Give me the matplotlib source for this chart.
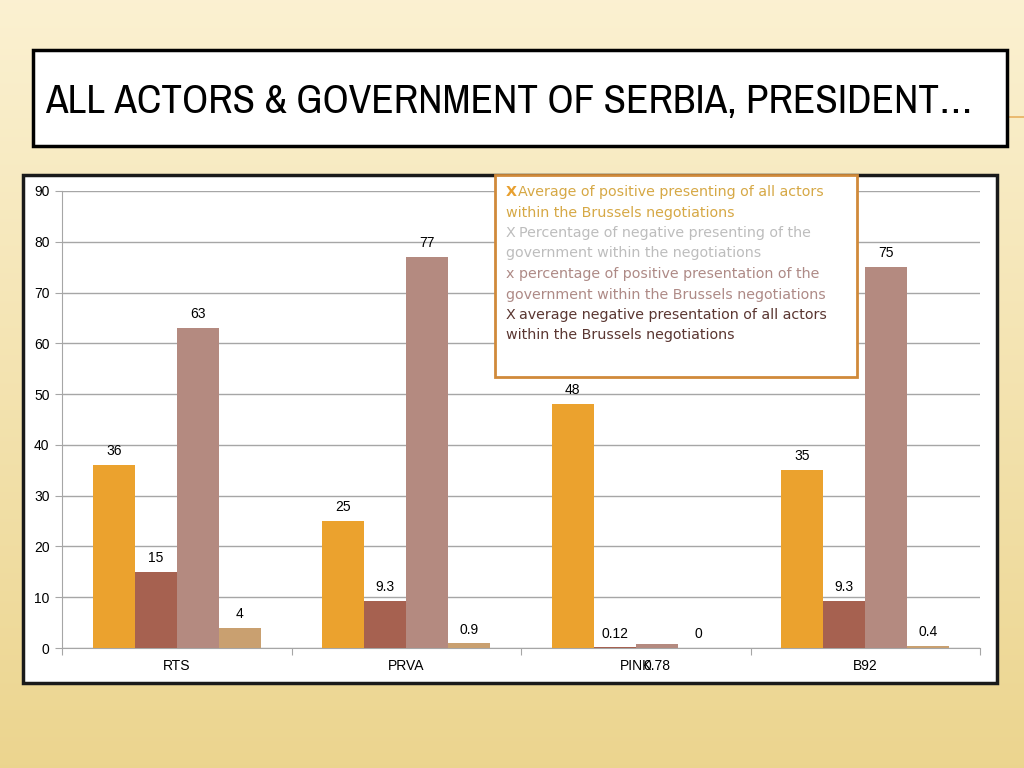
import numpy as np
import matplotlib
matplotlib.use("Agg")
import matplotlib.pyplot as plt
from matplotlib.patches import Rectangle

# data
channels = ["RTS", "PRVA", "PINK", "B92"]
avg_pos_all = [36, 25, 48, 35]
neg_gov = [15, 9.3, 0.12, 9.3]
pos_gov = [63, 77, 0.78, 75]
avg_neg_all = [4, 0.9, 0, 0.4]
value_labels = [
    ["36", "25", "48", "35"],
    ["15", "9.3", "0.12", "9.3"],
    ["63", "77", "0.78", "75"],
    ["4", "0.9", "0", "0.4"],
]
yticks = [0, 10, 20, 30, 40, 50, 60, 70, 80, 90]

title = "ALL ACTORS & GOVERNMENT OF SERBIA, PRESIDENT…"
legend_lines = [
    ("Average of positive presenting of all actors", "within the Brussels negotiations"),
    ("Percentage of negative presenting of the", "government within the negotiations"),
    ("percentage of positive presentation of the", "government within the Brussels negotiations"),
    ("average negative presentation of all actors", "within the Brussels negotiations"),
]
legend_marks = ["X", "X", "x", "X"]

colors = ["#EBA22E", "#A66150", "#B48A80", "#C9A070"]
legend_colors = ["#D6A845", "#BDBDBD", "#AE8A86", "#5A3631"]

plt.rcParams["font.family"] = ["Liberation Sans", "DejaVu Sans"]

fig = plt.figure(figsize=(10.24, 7.68), dpi=100)

# slide background
bg = fig.add_axes([0, 0, 1, 1], zorder=-10)
grad = np.linspace(0, 1, 256).reshape(-1, 1)
top = np.array([0.985, 0.945, 0.82])
bot = np.array([0.925, 0.835, 0.56])
img = top + (bot - top) * grad[..., None]
bg.imshow(img, aspect="auto", extent=[0, 1, 0, 1])
bg.set_xlim(0, 1)
bg.set_ylim(0, 1)
bg.axis("off")
bg.plot([1007 / 1024, 1], [1 - 117 / 768] * 2, color="#E8B060", lw=1.2)

# title box
fig.patches.append(Rectangle((33 / 1024, 1 - 146 / 768), 974 / 1024, 96 / 768,
                             transform=fig.transFigure, facecolor="white",
                             edgecolor="black", lw=2.5, zorder=1))
t = fig.text(45 / 1024, 1 - 113 / 768, title, fontsize=30,
             family=["Archivo Narrow", "DejaVu Sans"],
             color="black", va="baseline", ha="left", zorder=2)
# fit title to the width it has on the slide
fig.canvas.draw()
wpx = t.get_window_extent().width
t.set_fontsize(30 * 927 / wpx)

# chart box
fig.patches.append(Rectangle((23 / 1024, 1 - 683 / 768), 974 / 1024, 508 / 768,
                             transform=fig.transFigure, facecolor="white",
                             edgecolor="#1a1a1a", lw=2.5, zorder=1))

ax = fig.add_axes([62 / 1024, 1 - 648 / 768, 918 / 1024, 457 / 768], zorder=2)
ax.patch.set_alpha(0)
x = np.arange(len(channels)) + 0.5
w = 0.183
series = [avg_pos_all, neg_gov, pos_gov, avg_neg_all]
for i, vals in enumerate(series):
    xs = x + (i - 1.5) * w
    ax.bar(xs, vals, width=w, color=colors[i], zorder=3)
    for j, v in enumerate(vals):
        if channels[j] == "PINK" and i == 2:
            # this label sits under the axis in the original
            ax.annotate(value_labels[i][j], (xs[j], 0), xytext=(0, -13),
                        textcoords="offset points", ha="center", va="center", fontsize=10)
        else:
            ax.annotate(value_labels[i][j], (xs[j], v), xytext=(0, 10),
                        textcoords="offset points", ha="center", va="center", fontsize=10)

ax.set_xlim(0, 4)
ax.set_ylim(0, 90)
ax.set_yticks(yticks)
ax.yaxis.grid(True, color="#A6A6A6", lw=1, zorder=0)
ax.set_axisbelow(True)
ax.set_xticks([0, 1, 2, 3, 4])
ax.set_xticklabels([])
ax.set_xticks(x, minor=True)
ax.set_xticklabels(channels, minor=True, fontsize=10)
ax.tick_params(axis="x", which="minor", length=0, pad=8)
ax.tick_params(axis="x", which="major", length=5, color="#A6A6A6")
ax.tick_params(axis="y", length=5, color="#A6A6A6", labelsize=10, pad=4)
for s in ["top", "right"]:
    ax.spines[s].set_visible(False)
ax.spines["left"].set_color("#A6A6A6")
ax.spines["bottom"].set_color("#A6A6A6")

# legend box
fig.patches.append(Rectangle((495 / 1024, 1 - 377 / 768), 362 / 1024, 202 / 768,
                             transform=fig.transFigure, facecolor="white",
                             edgecolor="#D08A3A", lw=2, zorder=5))
line_y = 192
for k, (l1, l2) in enumerate(legend_lines):
    c = legend_colors[k]
    mark_col = "#E8A030" if k == 0 else c
    fig.text(506 / 1024, 1 - line_y / 768, legend_marks[k], fontsize=10.3,
             family="DejaVu Sans", color=mark_col, va="center", ha="left", zorder=6,
             fontweight="bold" if k == 0 else "normal")
    fig.text((518 if k == 0 else 519) / 1024, 1 - line_y / 768, l1, fontsize=10.3,
             family="DejaVu Sans", color=c, va="center", ha="left", zorder=6)
    fig.text(506 / 1024, 1 - (line_y + 20.5) / 768, l2, fontsize=10.3,
             family="DejaVu Sans", color=c, va="center", ha="left", zorder=6)
    line_y += 41

fig.savefig("out.png", dpi=100)
